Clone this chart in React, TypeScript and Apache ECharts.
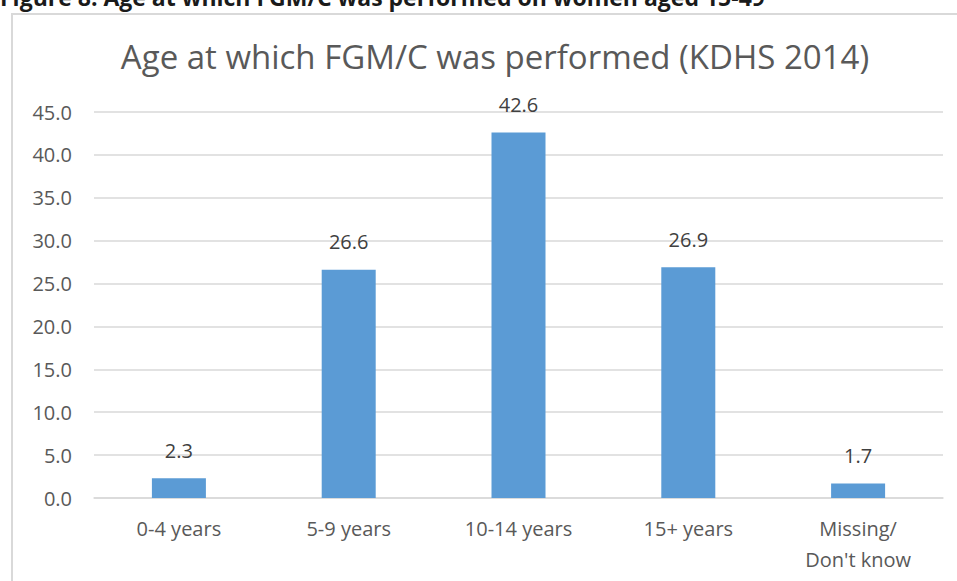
import React, { useEffect, useRef } from "react";
import * as echarts from "echarts";

const categories = ["0-4 years", "5-9 years", "10-14 years", "15+ years", "Missing/\nDon't know"];
const values = [2.3, 26.6, 42.6, 26.9, 1.7];
const titleText = "Age at which FGM/C was performed (KDHS 2014)";
const captionText = "Figure 8: Age at which FGM/C was performed on women aged 15-49";

export default function App() {
  const ref = useRef<HTMLDivElement>(null);
  useEffect(() => {
    if (!ref.current) return;
    const chart = echarts.init(ref.current, null, { renderer: "svg" });
    const font = "'Open Sans', sans-serif";
    chart.setOption({
      animation: false,
      backgroundColor: "#ffffff",
      title: {
        text: titleText,
        left: 490,
        textAlign: "center",
        top: 35,
        textStyle: { color: "#595959", fontSize: 33, fontWeight: "normal", fontFamily: font },
      },
      graphic: [
        {
          type: "rect",
          shape: { x: 12, y: 14, width: 1000, height: 700 },
          style: { fill: "none", stroke: "#d9d9d9", lineWidth: 2 },
          silent: true,
        },
        {
          type: "text",
          x: 0,
          y: 8,
          style: {
            text: captionText,
            fill: "#1a1a1a",
            font: "bold 23px 'Open Sans', sans-serif",
            verticalAlign: "bottom",
          },
          silent: true,
        },
      ],
      grid: { left: 94, right: 14, top: 112, bottom: 83, containLabel: false },
      xAxis: {
        type: "category",
        data: categories,
        axisLine: { lineStyle: { color: "#d9d9d9", width: 1.5 } },
        axisTick: { show: false },
        axisLabel: {
          color: "#595959",
          fontSize: 20,
          fontFamily: font,
          margin: 15,
          lineHeight: 31,
          interval: 0,
        },
      },
      yAxis: {
        type: "value",
        min: 0,
        max: 45,
        interval: 5,
        axisLine: { show: false },
        axisTick: { show: false },
        splitLine: { lineStyle: { color: "#d9d9d9", width: 1.5 } },
        axisLabel: {
          color: "#595959",
          fontSize: 20,
          fontFamily: font,
          margin: 22,
          formatter: (v: number) => v.toFixed(1),
        },
      },
      series: [
        {
          type: "bar",
          data: values,
          barWidth: 54,
          itemStyle: { color: "#5b9bd5" },
          label: {
            show: true,
            position: "top",
            distance: 18,
            color: "#404040",
            fontSize: 20,
            fontFamily: font,
            formatter: (p: any) => Number(p.value).toFixed(1),
          },
        },
      ],
    });
    return () => chart.dispose();
  }, []);
  return (
    <div
      ref={ref}
      style={{ position: "absolute", left: 0, top: 0, width: 957, height: 581 }}
    />
  );
}
